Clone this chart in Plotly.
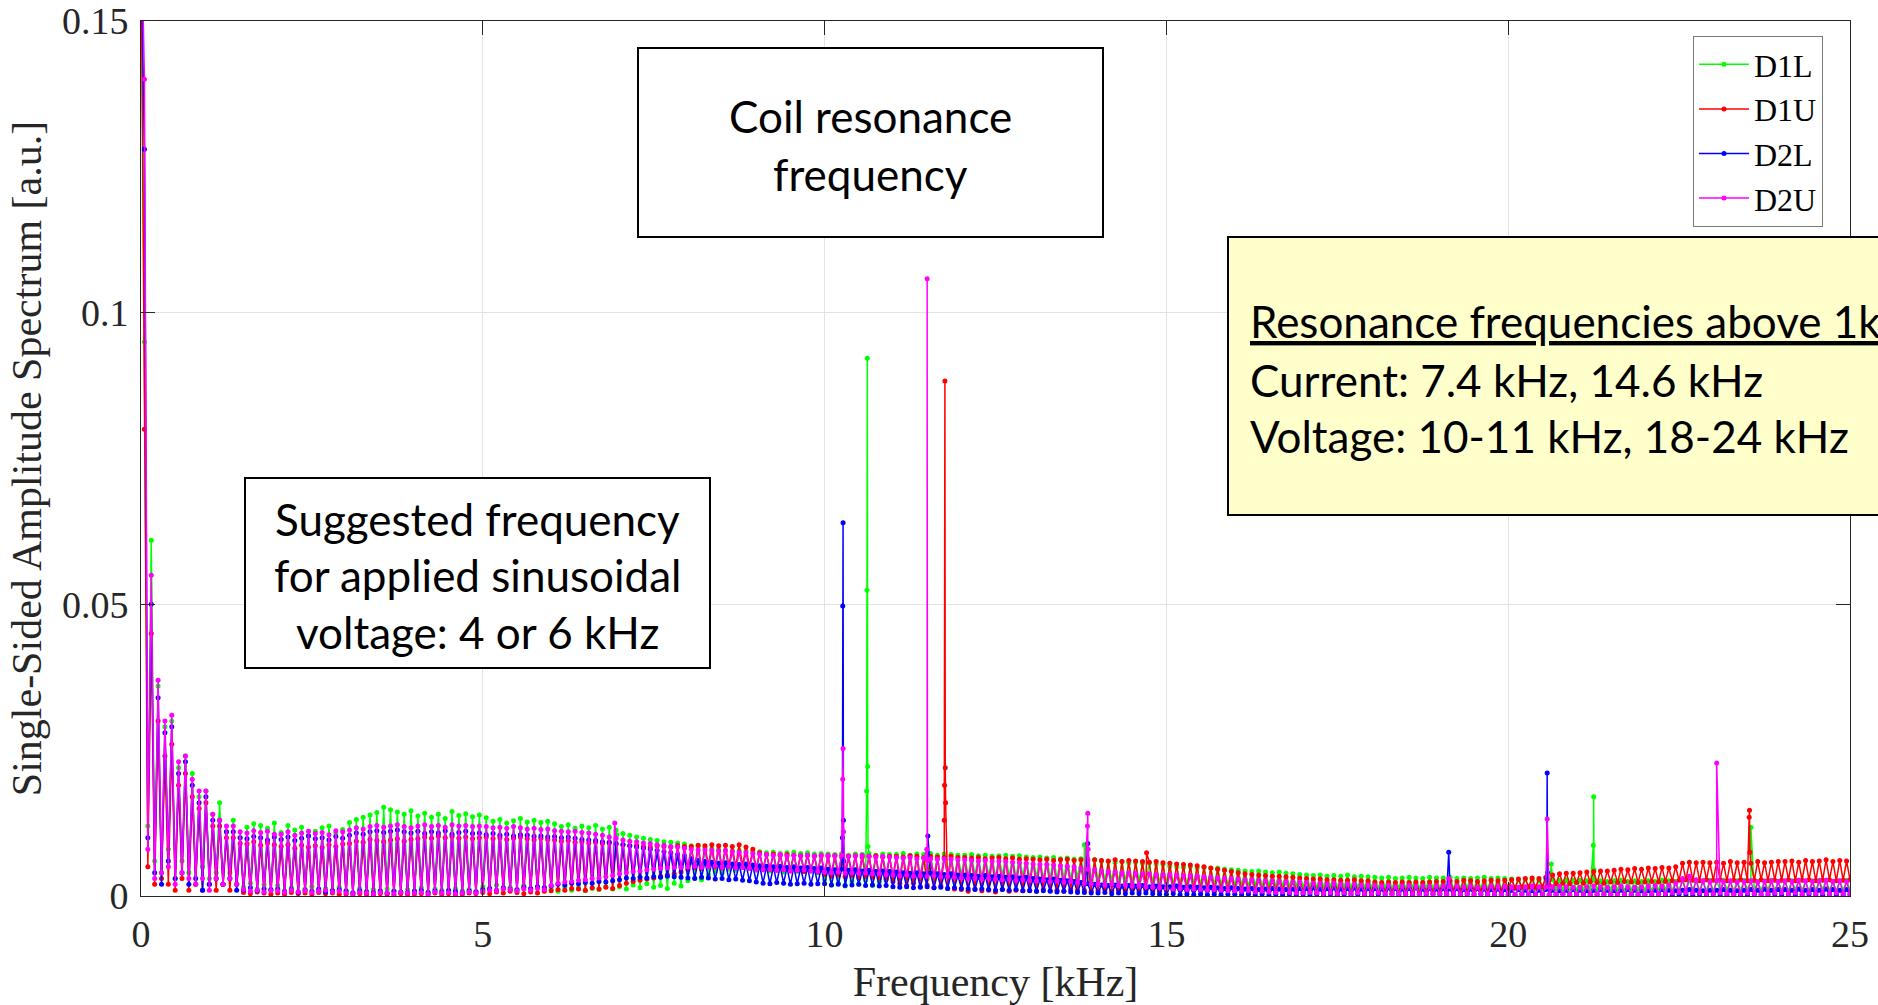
import numpy as np
import plotly.graph_objects as go

# ---------------- data ----------------
series_names = ["D1L", "D1U", "D2L", "D2U"]
series_colors = ["#00FF00", "#FF0000", "#0000FF", "#FF00FF"]

# low-frequency part: 0 .. 1.45 kHz, one sample every 0.05 kHz
lf_step_khz = 0.05
d1l_lf = [0.170, 0.095, 0.012, 0.061, 0.006, 0.036, 0.004, 0.029, 0.008, 0.030,
          0.003, 0.022, 0.006, 0.024, 0.004, 0.021, 0.002, 0.017, 0.005, 0.018,
          0.003, 0.014, 0.004, 0.016, 0.002, 0.011, 0.004, 0.013, 0.002, 0.010]
d1u_lf = [0.165, 0.080, 0.005, 0.045, 0.002, 0.030, 0.003, 0.024, 0.002, 0.026,
          0.001, 0.019, 0.003, 0.021, 0.001, 0.017, 0.002, 0.015, 0.001, 0.016,
          0.002, 0.012, 0.001, 0.012, 0.002, 0.010, 0.001, 0.010, 0.002, 0.009]
d2l_lf = [0.165, 0.128, 0.010, 0.050, 0.004, 0.034, 0.002, 0.028, 0.006, 0.029,
          0.003, 0.021, 0.004, 0.023, 0.002, 0.019, 0.003, 0.016, 0.001, 0.017,
          0.002, 0.013, 0.003, 0.013, 0.002, 0.011, 0.003, 0.011, 0.001, 0.010]
d2u_lf = [0.170, 0.140, 0.008, 0.055, 0.003, 0.037, 0.004, 0.030, 0.005, 0.031,
          0.002, 0.023, 0.004, 0.024, 0.003, 0.020, 0.002, 0.018, 0.003, 0.018,
          0.001, 0.014, 0.003, 0.013, 0.002, 0.012, 0.003, 0.012, 0.002, 0.011]

# main part: 1.5 .. 25.0 kHz, one sample every 0.05 kHz (one row = 1 kHz)
hf_start_khz = 1.5
hf_step_khz = 0.05
d1l_hf = [
    0.0015, 0.0118, 0.0022, 0.0124, 0.0012, 0.0121, 0.0019, 0.0116, 0.0010, 0.0125,
    0.0018, 0.0109, 0.0009, 0.0121, 0.0014, 0.0113, 0.0007, 0.0118, 0.0012, 0.0104, 0.0016, 0.0111, 0.0008, 0.0117, 0.0013, 0.0120, 0.0010, 0.0108, 0.0015, 0.0114,
    0.0010, 0.0126, 0.0006, 0.0131, 0.0013, 0.0135, 0.0008, 0.0139, 0.0011, 0.0143, 0.0007, 0.0152, 0.0012, 0.0148, 0.0009, 0.0144, 0.0006, 0.0140, 0.0011, 0.0146,
    0.0009, 0.0137, 0.0014, 0.0142, 0.0007, 0.0135, 0.0012, 0.0140, 0.0010, 0.0133, 0.0008, 0.0145, 0.0013, 0.0138, 0.0009, 0.0141, 0.0011, 0.0136, 0.0008, 0.0139,
    0.0016, 0.0134, 0.0011, 0.0128, 0.0019, 0.0131, 0.0013, 0.0125, 0.0015, 0.0129, 0.0010, 0.0133, 0.0018, 0.0127, 0.0012, 0.0130, 0.0016, 0.0126, 0.0014, 0.0128,
    0.0012, 0.0124, 0.0008, 0.0119, 0.0015, 0.0122, 0.0010, 0.0116, 0.0014, 0.0120, 0.0009, 0.0117, 0.0013, 0.0121, 0.0011, 0.0115, 0.0016, 0.0118, 0.0012, 0.0113,
    0.0016, 0.0107, 0.0012, 0.0104, 0.0019, 0.0101, 0.0014, 0.0099, 0.0021, 0.0097, 0.0015, 0.0095, 0.0018, 0.0093, 0.0013, 0.0092, 0.0022, 0.0091, 0.0017, 0.0089,
    0.0026, 0.0086, 0.0031, 0.0085, 0.0028, 0.0083, 0.0036, 0.0081, 0.0042, 0.0080, 0.0039, 0.0079, 0.0046, 0.0078, 0.0044, 0.0078, 0.0049, 0.0077, 0.0047, 0.0076,
    0.0044, 0.0076, 0.0047, 0.0074, 0.0043, 0.0075, 0.0046, 0.0073, 0.0041, 0.0074, 0.0045, 0.0075, 0.0042, 0.0073, 0.0046, 0.0074, 0.0044, 0.0072, 0.0040, 0.0073,
    0.0028, 0.0072, 0.0019, 0.0071, 0.0022, 0.0073, 0.0017, 0.0070, 0.0025, 0.0072, 0.0020, 0.0071, 0.0027, 0.0073, 0.0018, 0.0070, 0.0024, 0.0072, 0.0028, 0.0071,
    0.0031, 0.0071, 0.0028, 0.0073, 0.0033, 0.0070, 0.0030, 0.0072, 0.0034, 0.0071, 0.0029, 0.0073, 0.0032, 0.0070, 0.0030, 0.0072, 0.0033, 0.0071, 0.0031, 0.0070,
    0.0036, 0.0070, 0.0033, 0.0071, 0.0035, 0.0069, 0.0031, 0.0070, 0.0034, 0.0068, 0.0032, 0.0069, 0.0035, 0.0070, 0.0033, 0.0068, 0.0031, 0.0069, 0.0034, 0.0067,
    0.0030, 0.0066, 0.0032, 0.0067, 0.0028, 0.0065, 0.0031, 0.0066, 0.0029, 0.0064, 0.0030, 0.0065, 0.0028, 0.0063, 0.0031, 0.0064, 0.0029, 0.0063, 0.0027, 0.0062,
    0.0027, 0.0060, 0.0025, 0.0059, 0.0026, 0.0058, 0.0024, 0.0059, 0.0025, 0.0057, 0.0023, 0.0058, 0.0026, 0.0056, 0.0024, 0.0057, 0.0023, 0.0055, 0.0022, 0.0054,
    0.0022, 0.0051, 0.0020, 0.0050, 0.0021, 0.0049, 0.0019, 0.0050, 0.0021, 0.0048, 0.0020, 0.0049, 0.0019, 0.0047, 0.0020, 0.0048, 0.0018, 0.0046, 0.0019, 0.0045,
    0.0018, 0.0044, 0.0019, 0.0043, 0.0017, 0.0042, 0.0018, 0.0043, 0.0017, 0.0041, 0.0018, 0.0040, 0.0016, 0.0041, 0.0017, 0.0039, 0.0016, 0.0038, 0.0017, 0.0037,
    0.0015, 0.0036, 0.0016, 0.0035, 0.0014, 0.0036, 0.0015, 0.0034, 0.0016, 0.0035, 0.0014, 0.0034, 0.0015, 0.0036, 0.0014, 0.0033, 0.0015, 0.0034, 0.0014, 0.0033,
    0.0014, 0.0032, 0.0013, 0.0031, 0.0015, 0.0032, 0.0013, 0.0030, 0.0014, 0.0031, 0.0013, 0.0032, 0.0015, 0.0031, 0.0013, 0.0030, 0.0014, 0.0032, 0.0013, 0.0031,
    0.0013, 0.0031, 0.0014, 0.0032, 0.0012, 0.0030, 0.0013, 0.0031, 0.0014, 0.0030, 0.0012, 0.0031, 0.0013, 0.0032, 0.0012, 0.0030, 0.0013, 0.0031, 0.0012, 0.0030,
    0.0012, 0.0029, 0.0013, 0.0028, 0.0011, 0.0029, 0.0012, 0.0028, 0.0011, 0.0027, 0.0012, 0.0029, 0.0011, 0.0028, 0.0012, 0.0027, 0.0011, 0.0028, 0.0010, 0.0027,
    0.0010, 0.0027, 0.0011, 0.0026, 0.0010, 0.0027, 0.0009, 0.0026, 0.0010, 0.0025, 0.0011, 0.0026, 0.0010, 0.0027, 0.0009, 0.0025, 0.0010, 0.0026, 0.0011, 0.0025,
    0.0010, 0.0026, 0.0009, 0.0025, 0.0010, 0.0027, 0.0011, 0.0026, 0.0010, 0.0025, 0.0009, 0.0026, 0.0010, 0.0027, 0.0011, 0.0025, 0.0010, 0.0026, 0.0009, 0.0027,
    0.0009, 0.0026, 0.0010, 0.0027, 0.0011, 0.0025, 0.0009, 0.0026, 0.0010, 0.0027, 0.0011, 0.0026, 0.0009, 0.0025, 0.0010, 0.0026, 0.0011, 0.0027, 0.0010, 0.0025,
    0.0010, 0.0025, 0.0009, 0.0026, 0.0011, 0.0027, 0.0010, 0.0025, 0.0009, 0.0026, 0.0010, 0.0027, 0.0011, 0.0026, 0.0010, 0.0025, 0.0009, 0.0026, 0.0010, 0.0027,
    0.0010]
d1u_hf = [
    0.0006, 0.0089, 0.0004, 0.0093, 0.0007, 0.0087, 0.0005, 0.0091, 0.0003, 0.0088,
    0.0005, 0.0085, 0.0003, 0.0088, 0.0006, 0.0082, 0.0004, 0.0087, 0.0005, 0.0084, 0.0003, 0.0086, 0.0006, 0.0083, 0.0004, 0.0088, 0.0005, 0.0085, 0.0003, 0.0089,
    0.0003, 0.0090, 0.0002, 0.0094, 0.0004, 0.0092, 0.0003, 0.0097, 0.0002, 0.0095, 0.0004, 0.0093, 0.0003, 0.0096, 0.0002, 0.0098, 0.0004, 0.0094, 0.0003, 0.0097,
    0.0003, 0.0098, 0.0004, 0.0101, 0.0002, 0.0099, 0.0005, 0.0103, 0.0003, 0.0100, 0.0004, 0.0102, 0.0002, 0.0099, 0.0003, 0.0101, 0.0005, 0.0098, 0.0004, 0.0100,
    0.0006, 0.0101, 0.0004, 0.0098, 0.0007, 0.0100, 0.0005, 0.0097, 0.0008, 0.0099, 0.0006, 0.0101, 0.0004, 0.0098, 0.0007, 0.0096, 0.0005, 0.0099, 0.0008, 0.0097,
    0.0009, 0.0096, 0.0011, 0.0094, 0.0010, 0.0095, 0.0013, 0.0092, 0.0012, 0.0093, 0.0010, 0.0091, 0.0014, 0.0092, 0.0012, 0.0090, 0.0015, 0.0091, 0.0013, 0.0089,
    0.0018, 0.0088, 0.0022, 0.0086, 0.0025, 0.0087, 0.0027, 0.0085, 0.0029, 0.0084, 0.0031, 0.0086, 0.0034, 0.0085, 0.0036, 0.0084, 0.0038, 0.0086, 0.0041, 0.0085,
    0.0045, 0.0085, 0.0049, 0.0087, 0.0047, 0.0086, 0.0052, 0.0088, 0.0050, 0.0086, 0.0048, 0.0087, 0.0051, 0.0085, 0.0049, 0.0088, 0.0052, 0.0084, 0.0050, 0.0080,
    0.0047, 0.0074, 0.0045, 0.0071, 0.0046, 0.0072, 0.0044, 0.0070, 0.0045, 0.0071, 0.0043, 0.0070, 0.0044, 0.0069, 0.0042, 0.0070, 0.0043, 0.0068, 0.0041, 0.0069,
    0.0037, 0.0068, 0.0034, 0.0069, 0.0036, 0.0067, 0.0033, 0.0068, 0.0035, 0.0069, 0.0031, 0.0067, 0.0034, 0.0068, 0.0032, 0.0069, 0.0030, 0.0067, 0.0029, 0.0068,
    0.0025, 0.0068, 0.0021, 0.0067, 0.0018, 0.0069, 0.0022, 0.0068, 0.0016, 0.0066, 0.0019, 0.0068, 0.0014, 0.0067, 0.0017, 0.0066, 0.0013, 0.0068, 0.0012, 0.0066,
    0.0011, 0.0066, 0.0008, 0.0065, 0.0012, 0.0066, 0.0009, 0.0064, 0.0010, 0.0065, 0.0007, 0.0066, 0.0011, 0.0064, 0.0008, 0.0065, 0.0010, 0.0063, 0.0009, 0.0064,
    0.0010, 0.0063, 0.0008, 0.0062, 0.0011, 0.0063, 0.0009, 0.0061, 0.0010, 0.0062, 0.0008, 0.0063, 0.0011, 0.0061, 0.0009, 0.0062, 0.0010, 0.0061, 0.0008, 0.0062,
    0.0009, 0.0061, 0.0011, 0.0060, 0.0008, 0.0062, 0.0010, 0.0059, 0.0009, 0.0061, 0.0011, 0.0060, 0.0008, 0.0059, 0.0010, 0.0058, 0.0009, 0.0059, 0.0008, 0.0057,
    0.0010, 0.0056, 0.0009, 0.0055, 0.0011, 0.0054, 0.0008, 0.0053, 0.0010, 0.0052, 0.0009, 0.0050, 0.0011, 0.0048, 0.0008, 0.0046, 0.0010, 0.0044, 0.0009, 0.0042,
    0.0008, 0.0040, 0.0009, 0.0038, 0.0007, 0.0037, 0.0008, 0.0036, 0.0007, 0.0035, 0.0008, 0.0034, 0.0007, 0.0034, 0.0008, 0.0033, 0.0007, 0.0032, 0.0006, 0.0031,
    0.0006, 0.0030, 0.0007, 0.0029, 0.0006, 0.0029, 0.0005, 0.0028, 0.0006, 0.0028, 0.0007, 0.0027, 0.0006, 0.0027, 0.0005, 0.0028, 0.0006, 0.0026, 0.0005, 0.0026,
    0.0006, 0.0024, 0.0005, 0.0023, 0.0007, 0.0024, 0.0006, 0.0023, 0.0005, 0.0024, 0.0007, 0.0023, 0.0006, 0.0024, 0.0005, 0.0023, 0.0007, 0.0024, 0.0006, 0.0025,
    0.0008, 0.0025, 0.0007, 0.0026, 0.0009, 0.0025, 0.0008, 0.0027, 0.0007, 0.0026, 0.0009, 0.0025, 0.0008, 0.0026, 0.0007, 0.0027, 0.0009, 0.0026, 0.0008, 0.0027,
    0.0013, 0.0028, 0.0014, 0.0029, 0.0015, 0.0030, 0.0016, 0.0031, 0.0015, 0.0030, 0.0016, 0.0032, 0.0019, 0.0036, 0.0021, 0.0038, 0.0022, 0.0039, 0.0021, 0.0039,
    0.0023, 0.0040, 0.0022, 0.0041, 0.0024, 0.0042, 0.0023, 0.0043, 0.0022, 0.0043, 0.0024, 0.0044, 0.0023, 0.0046, 0.0025, 0.0045, 0.0024, 0.0047, 0.0023, 0.0046,
    0.0024, 0.0048, 0.0025, 0.0047, 0.0024, 0.0049, 0.0025, 0.0048, 0.0026, 0.0050, 0.0027, 0.0056, 0.0028, 0.0058, 0.0027, 0.0057, 0.0026, 0.0058, 0.0028, 0.0057,
    0.0027, 0.0058, 0.0028, 0.0056, 0.0026, 0.0059, 0.0027, 0.0057, 0.0028, 0.0058, 0.0026, 0.0056, 0.0027, 0.0059, 0.0028, 0.0057, 0.0026, 0.0058, 0.0027, 0.0059,
    0.0027, 0.0059, 0.0028, 0.0060, 0.0026, 0.0058, 0.0027, 0.0061, 0.0028, 0.0059, 0.0026, 0.0060, 0.0027, 0.0062, 0.0028, 0.0059, 0.0026, 0.0061, 0.0027, 0.0060,
    0.0028]
d2l_hf = [
    0.0010, 0.0098, 0.0014, 0.0102, 0.0009, 0.0100, 0.0012, 0.0096, 0.0011, 0.0101,
    0.0012, 0.0097, 0.0007, 0.0101, 0.0011, 0.0095, 0.0006, 0.0099, 0.0010, 0.0103, 0.0008, 0.0098, 0.0012, 0.0100, 0.0007, 0.0096, 0.0009, 0.0102, 0.0011, 0.0099,
    0.0008, 0.0104, 0.0005, 0.0108, 0.0009, 0.0106, 0.0007, 0.0110, 0.0006, 0.0112, 0.0009, 0.0109, 0.0005, 0.0111, 0.0008, 0.0113, 0.0007, 0.0110, 0.0006, 0.0108,
    0.0008, 0.0111, 0.0010, 0.0107, 0.0006, 0.0110, 0.0009, 0.0108, 0.0007, 0.0112, 0.0010, 0.0106, 0.0008, 0.0109, 0.0006, 0.0111, 0.0009, 0.0107, 0.0007, 0.0108,
    0.0011, 0.0105, 0.0013, 0.0107, 0.0010, 0.0104, 0.0014, 0.0106, 0.0012, 0.0103, 0.0011, 0.0105, 0.0015, 0.0104, 0.0013, 0.0102, 0.0016, 0.0103, 0.0014, 0.0101,
    0.0017, 0.0102, 0.0020, 0.0100, 0.0019, 0.0101, 0.0022, 0.0099, 0.0021, 0.0097, 0.0023, 0.0096, 0.0022, 0.0095, 0.0025, 0.0093, 0.0024, 0.0092, 0.0026, 0.0090,
    0.0028, 0.0088, 0.0031, 0.0086, 0.0030, 0.0084, 0.0032, 0.0082, 0.0031, 0.0080, 0.0033, 0.0078, 0.0032, 0.0076, 0.0034, 0.0074, 0.0033, 0.0071, 0.0032, 0.0068,
    0.0031, 0.0064, 0.0030, 0.0061, 0.0032, 0.0059, 0.0031, 0.0058, 0.0029, 0.0056, 0.0030, 0.0057, 0.0028, 0.0055, 0.0029, 0.0054, 0.0027, 0.0055, 0.0026, 0.0053,
    0.0024, 0.0052, 0.0022, 0.0051, 0.0021, 0.0050, 0.0023, 0.0051, 0.0022, 0.0049, 0.0020, 0.0050, 0.0021, 0.0048, 0.0022, 0.0049, 0.0020, 0.0047, 0.0021, 0.0048,
    0.0021, 0.0046, 0.0019, 0.0045, 0.0020, 0.0046, 0.0018, 0.0044, 0.0019, 0.0045, 0.0020, 0.0043, 0.0018, 0.0044, 0.0019, 0.0042, 0.0017, 0.0043, 0.0018, 0.0042,
    0.0016, 0.0041, 0.0015, 0.0040, 0.0016, 0.0039, 0.0014, 0.0040, 0.0015, 0.0038, 0.0016, 0.0039, 0.0014, 0.0038, 0.0015, 0.0037, 0.0013, 0.0038, 0.0014, 0.0036,
    0.0013, 0.0036, 0.0012, 0.0035, 0.0011, 0.0034, 0.0012, 0.0035, 0.0011, 0.0033, 0.0010, 0.0034, 0.0011, 0.0032, 0.0010, 0.0033, 0.0011, 0.0031, 0.0009, 0.0032,
    0.0009, 0.0030, 0.0008, 0.0029, 0.0009, 0.0028, 0.0008, 0.0029, 0.0007, 0.0027, 0.0008, 0.0026, 0.0007, 0.0025, 0.0006, 0.0023, 0.0006, 0.0021, 0.0005, 0.0020,
    0.0005, 0.0019, 0.0006, 0.0018, 0.0004, 0.0019, 0.0005, 0.0017, 0.0004, 0.0018, 0.0005, 0.0017, 0.0004, 0.0018, 0.0005, 0.0016, 0.0004, 0.0017, 0.0003, 0.0016,
    0.0003, 0.0016, 0.0004, 0.0017, 0.0002, 0.0015, 0.0003, 0.0016, 0.0002, 0.0015, 0.0003, 0.0014, 0.0002, 0.0015, 0.0003, 0.0014, 0.0002, 0.0013, 0.0003, 0.0014,
    0.0003, 0.0013, 0.0002, 0.0012, 0.0003, 0.0013, 0.0002, 0.0011, 0.0003, 0.0012, 0.0002, 0.0013, 0.0003, 0.0012, 0.0002, 0.0011, 0.0003, 0.0012, 0.0002, 0.0013,
    0.0003, 0.0013, 0.0002, 0.0014, 0.0003, 0.0012, 0.0002, 0.0013, 0.0003, 0.0014, 0.0002, 0.0012, 0.0003, 0.0013, 0.0002, 0.0014, 0.0003, 0.0012, 0.0002, 0.0013,
    0.0002, 0.0013, 0.0003, 0.0012, 0.0002, 0.0014, 0.0003, 0.0013, 0.0002, 0.0012, 0.0003, 0.0013, 0.0002, 0.0014, 0.0003, 0.0012, 0.0002, 0.0013, 0.0003, 0.0012,
    0.0003, 0.0013, 0.0002, 0.0012, 0.0003, 0.0013, 0.0002, 0.0011, 0.0003, 0.0012, 0.0002, 0.0013, 0.0003, 0.0012, 0.0002, 0.0011, 0.0003, 0.0012, 0.0002, 0.0011,
    0.0002, 0.0010, 0.0002, 0.0011, 0.0003, 0.0010, 0.0002, 0.0009, 0.0002, 0.0010, 0.0003, 0.0011, 0.0002, 0.0010, 0.0002, 0.0009, 0.0003, 0.0010, 0.0002, 0.0011,
    0.0002, 0.0010, 0.0003, 0.0009, 0.0002, 0.0010, 0.0002, 0.0011, 0.0003, 0.0010, 0.0002, 0.0009, 0.0002, 0.0010, 0.0003, 0.0011, 0.0002, 0.0010, 0.0002, 0.0009,
    0.0002, 0.0009, 0.0002, 0.0010, 0.0003, 0.0011, 0.0002, 0.0010, 0.0002, 0.0009, 0.0003, 0.0010, 0.0002, 0.0011, 0.0002, 0.0010, 0.0003, 0.0009, 0.0002, 0.0010,
    0.0003, 0.0010, 0.0002, 0.0011, 0.0002, 0.0010, 0.0003, 0.0009, 0.0002, 0.0010, 0.0002, 0.0011, 0.0003, 0.0010, 0.0002, 0.0012, 0.0002, 0.0010, 0.0003, 0.0011,
    0.0002, 0.0011, 0.0003, 0.0010, 0.0002, 0.0012, 0.0002, 0.0010, 0.0003, 0.0011, 0.0002, 0.0010, 0.0002, 0.0012, 0.0003, 0.0011, 0.0002, 0.0010, 0.0002, 0.0011,
    0.0002]
d2u_hf = [
    0.0011, 0.0108, 0.0008, 0.0112, 0.0010, 0.0109, 0.0007, 0.0111, 0.0009, 0.0106,
    0.0009, 0.0106, 0.0006, 0.0110, 0.0010, 0.0104, 0.0007, 0.0108, 0.0009, 0.0111, 0.0006, 0.0107, 0.0008, 0.0109, 0.0010, 0.0105, 0.0007, 0.0112, 0.0008, 0.0110,
    0.0005, 0.0113, 0.0004, 0.0117, 0.0006, 0.0115, 0.0005, 0.0119, 0.0004, 0.0121, 0.0006, 0.0118, 0.0005, 0.0120, 0.0004, 0.0122, 0.0006, 0.0119, 0.0005, 0.0117,
    0.0005, 0.0120, 0.0006, 0.0122, 0.0004, 0.0119, 0.0007, 0.0121, 0.0005, 0.0118, 0.0006, 0.0122, 0.0004, 0.0120, 0.0005, 0.0121, 0.0007, 0.0119, 0.0005, 0.0120,
    0.0008, 0.0119, 0.0010, 0.0117, 0.0009, 0.0118, 0.0012, 0.0116, 0.0011, 0.0119, 0.0009, 0.0117, 0.0012, 0.0115, 0.0010, 0.0116, 0.0013, 0.0114, 0.0011, 0.0115,
    0.0018, 0.0112, 0.0022, 0.0111, 0.0024, 0.0110, 0.0025, 0.0111, 0.0027, 0.0109, 0.0028, 0.0108, 0.0030, 0.0106, 0.0031, 0.0104, 0.0033, 0.0101, 0.0035, 0.0099,
    0.0038, 0.0096, 0.0040, 0.0094, 0.0042, 0.0093, 0.0043, 0.0091, 0.0045, 0.0090, 0.0046, 0.0088, 0.0047, 0.0087, 0.0048, 0.0085, 0.0049, 0.0084, 0.0049, 0.0082,
    0.0050, 0.0080, 0.0051, 0.0079, 0.0049, 0.0079, 0.0050, 0.0078, 0.0051, 0.0077, 0.0049, 0.0078, 0.0050, 0.0076, 0.0048, 0.0075, 0.0049, 0.0074, 0.0047, 0.0073,
    0.0046, 0.0072, 0.0045, 0.0071, 0.0046, 0.0070, 0.0044, 0.0071, 0.0045, 0.0069, 0.0043, 0.0070, 0.0044, 0.0069, 0.0045, 0.0070, 0.0043, 0.0069, 0.0042, 0.0070,
    0.0041, 0.0070, 0.0040, 0.0069, 0.0041, 0.0070, 0.0039, 0.0068, 0.0040, 0.0069, 0.0039, 0.0070, 0.0040, 0.0068, 0.0038, 0.0067, 0.0039, 0.0068, 0.0037, 0.0067,
    0.0036, 0.0066, 0.0035, 0.0065, 0.0036, 0.0066, 0.0034, 0.0064, 0.0035, 0.0065, 0.0034, 0.0064, 0.0035, 0.0063, 0.0033, 0.0064, 0.0034, 0.0063, 0.0032, 0.0062,
    0.0031, 0.0062, 0.0030, 0.0061, 0.0031, 0.0060, 0.0029, 0.0061, 0.0030, 0.0059, 0.0029, 0.0060, 0.0028, 0.0059, 0.0029, 0.0058, 0.0027, 0.0057, 0.0028, 0.0056,
    0.0027, 0.0055, 0.0026, 0.0054, 0.0027, 0.0054, 0.0025, 0.0053, 0.0026, 0.0052, 0.0024, 0.0051, 0.0025, 0.0050, 0.0023, 0.0048, 0.0022, 0.0046, 0.0021, 0.0045,
    0.0020, 0.0043, 0.0019, 0.0042, 0.0020, 0.0041, 0.0018, 0.0040, 0.0019, 0.0040, 0.0017, 0.0039, 0.0018, 0.0038, 0.0016, 0.0038, 0.0015, 0.0037, 0.0014, 0.0037,
    0.0013, 0.0037, 0.0012, 0.0036, 0.0013, 0.0035, 0.0011, 0.0035, 0.0012, 0.0034, 0.0011, 0.0033, 0.0010, 0.0032, 0.0011, 0.0031, 0.0010, 0.0030, 0.0009, 0.0030,
    0.0009, 0.0029, 0.0008, 0.0028, 0.0009, 0.0028, 0.0007, 0.0027, 0.0008, 0.0026, 0.0007, 0.0026, 0.0006, 0.0025, 0.0007, 0.0025, 0.0006, 0.0024, 0.0005, 0.0024,
    0.0005, 0.0023, 0.0006, 0.0022, 0.0005, 0.0022, 0.0004, 0.0021, 0.0005, 0.0022, 0.0004, 0.0020, 0.0005, 0.0021, 0.0004, 0.0020, 0.0005, 0.0019, 0.0004, 0.0019,
    0.0004, 0.0018, 0.0005, 0.0017, 0.0004, 0.0018, 0.0003, 0.0016, 0.0004, 0.0017, 0.0003, 0.0018, 0.0004, 0.0016, 0.0003, 0.0017, 0.0004, 0.0016, 0.0003, 0.0017,
    0.0004, 0.0017, 0.0003, 0.0016, 0.0004, 0.0017, 0.0003, 0.0016, 0.0004, 0.0017, 0.0003, 0.0015, 0.0004, 0.0016, 0.0003, 0.0017, 0.0004, 0.0016, 0.0003, 0.0017,
    0.0003, 0.0016, 0.0002, 0.0015, 0.0003, 0.0016, 0.0003, 0.0017, 0.0002, 0.0016, 0.0003, 0.0015, 0.0002, 0.0016, 0.0003, 0.0017, 0.0003, 0.0016, 0.0002, 0.0015,
    0.0003, 0.0015, 0.0002, 0.0016, 0.0003, 0.0017, 0.0003, 0.0016, 0.0002, 0.0015, 0.0003, 0.0016, 0.0002, 0.0017, 0.0003, 0.0016, 0.0003, 0.0015, 0.0002, 0.0016,
    0.0003, 0.0017, 0.0004, 0.0018, 0.0003, 0.0017, 0.0004, 0.0019, 0.0005, 0.0022, 0.0006, 0.0030, 0.0006, 0.0034, 0.0005, 0.0028, 0.0005, 0.0026, 0.0004, 0.0025,
    0.0004, 0.0026, 0.0005, 0.0025, 0.0004, 0.0026, 0.0003, 0.0024, 0.0004, 0.0025, 0.0005, 0.0026, 0.0004, 0.0024, 0.0003, 0.0025, 0.0004, 0.0026, 0.0005, 0.0025,
    0.0005, 0.0026, 0.0004, 0.0025, 0.0005, 0.0027, 0.0004, 0.0026, 0.0005, 0.0025, 0.0004, 0.0026, 0.0005, 0.0027, 0.0004, 0.0025, 0.0005, 0.0026, 0.0004, 0.0025,
    0.0004]

# narrow resonance peaks (frequency in kHz, amplitude)
d1l_peak_f = [6.96, 10.615, 10.62, 10.625, 10.63, 10.635, 13.80, 20.63, 21.245, 21.25, 21.255, 23.55]
d1l_peak_v = [0.0105, 0.0180, 0.0524, 0.0922, 0.0222, 0.0085, 0.0088, 0.0055, 0.0087, 0.0170, 0.0045, 0.0118]
d1u_peak_f = [11.75, 11.755, 11.76, 11.765, 11.77, 14.71, 23.525, 23.53, 23.535]
d1u_peak_v = [0.0130, 0.0190, 0.0883, 0.0220, 0.0160, 0.0074, 0.0135, 0.0147, 0.0075]
d2l_peak_f = [10.26, 10.265, 10.27, 10.275, 10.28, 11.51, 13.85, 19.13, 20.565, 20.57, 20.575]
d2l_peak_v = [0.0100, 0.0497, 0.0640, 0.0130, 0.0060, 0.0103, 0.0090, 0.0075, 0.0030, 0.0211, 0.0040]
d2u_peak_f = [6.93, 10.265, 10.27, 10.276, 11.495, 11.50, 11.505, 13.845, 13.85, 13.855, 19.13, 20.57, 23.05]
d2u_peak_v = [0.0125, 0.0200, 0.0253, 0.0110, 0.0080, 0.1058, 0.0060, 0.0120, 0.0142, 0.0080, 0.0030, 0.0132, 0.0228]

x_ticks = [0, 5, 10, 15, 20, 25]
y_ticks = [0, 0.05, 0.1, 0.15]
y_tick_text = ["0", "0.05", "0.1", "0.15"]

# ---------------- build traces ----------------
def assemble(lf, hf, pf, pv):
    f_lf = np.arange(len(lf)) * lf_step_khz
    f_hf = hf_start_khz + np.arange(len(hf)) * hf_step_khz
    f = np.concatenate([f_lf, f_hf, np.array(pf)])
    v = np.concatenate([np.array(lf), np.array(hf), np.array(pv)])
    order = np.argsort(f, kind="stable")
    return f[order], v[order]

all_series = [
    (d1l_lf, d1l_hf, d1l_peak_f, d1l_peak_v),
    (d1u_lf, d1u_hf, d1u_peak_f, d1u_peak_v),
    (d2l_lf, d2l_hf, d2l_peak_f, d2l_peak_v),
    (d2u_lf, d2u_hf, d2u_peak_f, d2u_peak_v),
]

fig = go.Figure()
for name, color, parts in zip(series_names, series_colors, all_series):
    fx, fy = assemble(*parts)
    fig.add_trace(go.Scatter(
        x=fx, y=fy, name=name, mode="lines+markers",
        line=dict(color=color, width=1.5),
        marker=dict(color=color, size=5),
    ))

# ---------------- layout ----------------
W, H = 1878, 1005
L, R, T, B = 141, 28, 21, 109
pw, ph = W - L - R, H - T - B

def px(xp):
    return (xp - L) / pw

def py(yp):
    return (H - B - yp) / ph

axis_color = "#262626"
serif = "Liberation Serif"
sans = "Lato"

fig.update_layout(
    width=W, height=H,
    margin=dict(l=L, r=R, t=T, b=B, pad=0),
    paper_bgcolor="white", plot_bgcolor="white",
    showlegend=True,
    legend=dict(
        x=px(1693), y=py(36), xanchor="left", yanchor="top",
        bgcolor="white", bordercolor="#7a7a7a", borderwidth=1,
        font=dict(family=serif, size=32, color="black"),
        itemwidth=50,
    ),
    xaxis=dict(
        range=[0, 25], tickvals=x_ticks, ticktext=[str(t) for t in x_ticks],
        showgrid=True, gridcolor="#e3e3e3", gridwidth=1,
        showline=True, linecolor=axis_color, linewidth=1, mirror="ticks",
        ticks="inside", ticklen=14, tickcolor=axis_color, tickwidth=1,
        zeroline=False, ticklabelstandoff=4,
        tickfont=dict(family=serif, size=38, color=axis_color),
        title=dict(text="Frequency [kHz]", font=dict(family=serif, size=42, color=axis_color), standoff=15),
        automargin=False,
    ),
    yaxis=dict(
        range=[0, 0.15], tickvals=y_ticks, ticktext=y_tick_text,
        showgrid=True, gridcolor="#e3e3e3", gridwidth=1,
        showline=True, linecolor=axis_color, linewidth=1, mirror="ticks",
        ticks="inside", ticklen=14, tickcolor=axis_color, tickwidth=1,
        zeroline=False, ticklabelstandoff=4,
        tickfont=dict(family=serif, size=38, color=axis_color),
        title=dict(text="Single-Sided Amplitude Spectrum [a.u.]",
                   font=dict(family=serif, size=42, color=axis_color), standoff=7),
        automargin=False,
    ),
)

# boxes
box_line = dict(color="black", width=2)
fig.add_shape(type="rect", xref="paper", yref="paper",
              x0=px(638), x1=px(1103), y0=py(237), y1=py(48),
              line=box_line, fillcolor="white", layer="above")
fig.add_shape(type="rect", xref="paper", yref="paper",
              x0=px(245), x1=px(710), y0=py(668), y1=py(478),
              line=box_line, fillcolor="white", layer="above")
fig.add_shape(type="rect", xref="paper", yref="paper",
              x0=px(1228), x1=px(1960), y0=py(515), y1=py(237),
              line=box_line, fillcolor="#FFFFCC", layer="above")

box_font = dict(family=sans, size=44, color="black")
texts = [
    ("Coil resonance", 870.5, 116, "center"),
    ("frequency", 870.5, 174, "center"),
    ("Suggested frequency", 477.5, 519, "center"),
    ("for applied sinusoidal", 477.5, 575, "center"),
    ("voltage: 4 or 6 kHz", 477.5, 632, "center"),
    ("<u>Resonance frequencies above 1kHz</u>", 1248, 321, "left"),
    ("Current: 7.4 kHz, 14.6 kHz", 1248, 380, "left"),
    ("Voltage: 10-11 kHz, 18-24 kHz", 1248, 436, "left"),
]
for txt, xx, yy, anc in texts:
    fig.add_annotation(text=txt, xref="paper", yref="paper",
                       x=px(xx), y=py(yy), xanchor=anc, yanchor="middle",
                       showarrow=False, font=box_font, align=anc)

fig.write_html("out.html", config={"displayModeBar": False})
